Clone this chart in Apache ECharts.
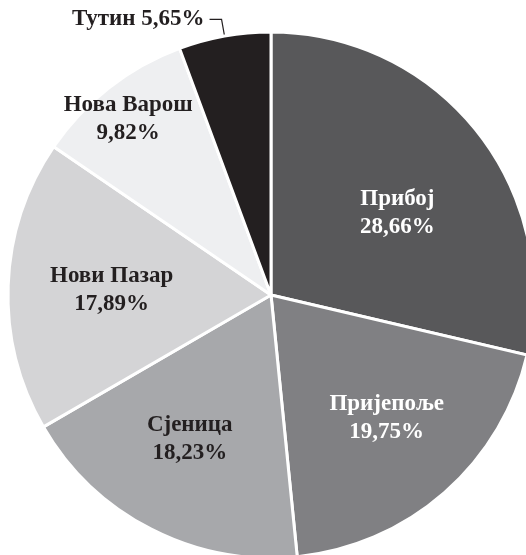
<!DOCTYPE html>
<html>
<head>
<meta charset="utf-8">
<script src="https://cdn.jsdelivr.net/npm/echarts@6/dist/echarts.min.js"></script>
<style>
html,body{margin:0;padding:0;background:#fff;}
#chart{width:526px;height:555px;}
</style>
</head>
<body>
<div id="chart"></div>
<script>
// municipalities and their shares (%)
const names = ['Прибој', 'Пријепоље', 'Сјеница', 'Нови Пазар', 'Нова Варош', 'Тутин'];
const shares = [28.66, 19.75, 18.23, 17.89, 9.82, 5.65];
const colors = ['#58585a', '#808083', '#a7a8ab', '#d4d4d6', '#eeeff1', '#231f20'];
const textColors = ['#ffffff', '#ffffff', '#231f20', '#231f20', '#231f20', '#231f20'];
const offsets = [[21, 2], [27, 22], [-20, 24], [-25, 0], [-60, -70], [0, 0]];

let chart = echarts.init(document.getElementById('chart'), null, {renderer: 'canvas'});

let pct = v => v.toFixed(2).replace('.', ',') + '%';

let data = names.map((n, i) => {
    let item = {
        name: n,
        value: shares[i],
        itemStyle: {color: colors[i]},
        label: {
            color: textColors[i],
            offset: offsets[i]
        }
    };
    if (i == 5) {
        item.label = {
            position: 'outside',
            color: '#231f20',
            distanceToLabelLine: 5,
            formatter: p => p.name + ' ' + pct(p.value)
        };
        item.labelLine = {
            show: true,
            length: 17,
            length2: 12,
            lineStyle: {color: '#231f20', width: 1.2}
        };
    }
    return item;
});

let option = {
    animation: false,
    series: [{
        type: 'pie',
        center: [271, 295],
        radius: 263,
        startAngle: 90,
        clockwise: true,
        avoidLabelOverlap: false,
        itemStyle: {
            borderColor: '#ffffff',
            borderWidth: 3
        },
        label: {
            show: true,
            position: 'inside',
            fontFamily: '"Liberation Serif", "Times New Roman", serif',
            fontWeight: 'bold',
            fontSize: 23,
            lineHeight: 28,
            align: 'center',
            formatter: p => p.name + '\n' + pct(p.value)
        },
        labelLine: {show: false},
        data: data
    }]
};
chart.setOption(option);
</script>
</body>
</html>
